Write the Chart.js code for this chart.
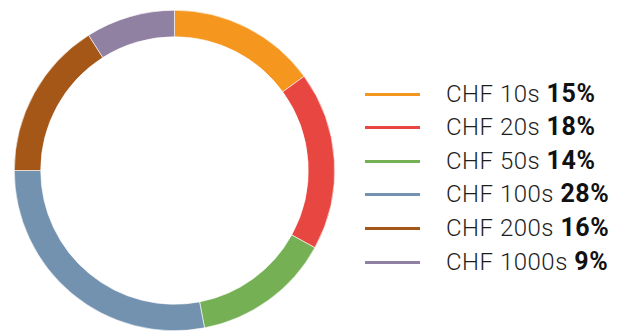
<!DOCTYPE html>
<html>
<head>
<meta charset="utf-8">
<script src="https://cdn.jsdelivr.net/npm/chart.js@4.4.1/dist/chart.umd.min.js"></script>
<style>
  html, body { margin: 0; padding: 0; background: #ffffff; }
  #wrap { position: relative; width: 622px; height: 331px; overflow: hidden; }
  #c { position: absolute; left: 0; top: 0; }
  #legend { position: absolute; left: 365px; top: 0; }
  .row { position: absolute; left: 0; height: 34px; white-space: nowrap; }
  .swatch { position: absolute; left: 0; width: 55px; height: 3px; }
  .lbl { position: absolute; left: 81px; font-family: Roboto, "Noto Sans", sans-serif; font-size: 24px; font-weight: 300; letter-spacing: 0.5px; color: #1e1e1e; line-height: 34px; top: -0.5px; }
  .lbl b { color: #111; font-weight: 700; font-size: 25px; letter-spacing: 0.6px; }
</style>
</head>
<body>
<div id="wrap">
  <canvas id="c" width="349" height="331"></canvas>
  <div id="legend"></div>
</div>
<script>
const categories = ["CHF 10s", "CHF 20s", "CHF 50s", "CHF 100s", "CHF 200s", "CHF 1000s"];
const shares = [15, 18, 14, 28, 16, 9];
const colors = ["#F5961E", "#E84640", "#75B054", "#7292B0", "#A55718", "#9080A2"];

const ctx = document.getElementById('c').getContext('2d');
new Chart(ctx, {
  type: 'doughnut',
  data: {
    labels: categories,
    datasets: [{
      data: shares,
      backgroundColor: colors,
      borderColor: '#ffffff',
      borderWidth: 0.6,
      hoverOffset: 0,
      offset: 0
    }]
  },
  options: {
    responsive: false,
    animation: false,
    events: [],
    cutout: '83.5%',
    layout: { padding: { top: 10, bottom: 0, left: 14, right: 14 } },
    plugins: { legend: { display: false }, tooltip: { enabled: false } }
  }
});

const legend = document.getElementById('legend');
const rowTops = [94, 127.5, 161, 194.5, 228, 262];
categories.forEach((cat, i) => {
  const row = document.createElement('div');
  row.className = 'row';
  row.style.top = (rowTops[i] - 17) + 'px';
  const sw = document.createElement('div');
  sw.className = 'swatch';
  sw.style.background = colors[i];
  sw.style.top = '15.5px';
  const lbl = document.createElement('div');
  lbl.className = 'lbl';
  lbl.innerHTML = cat + ' <b>' + shares[i] + '%</b>';
  row.appendChild(sw);
  row.appendChild(lbl);
  legend.appendChild(row);
});
</script>
</body>
</html>
